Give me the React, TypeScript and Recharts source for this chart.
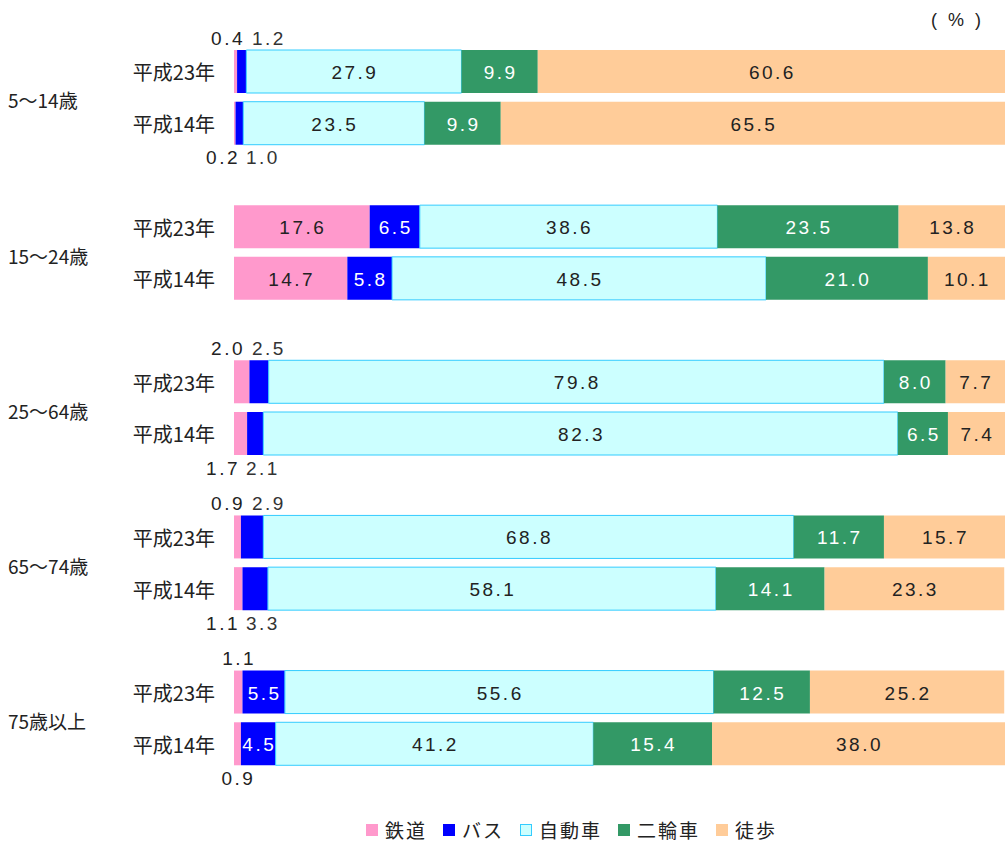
import React from 'react';
import { BarChart, Bar, XAxis, YAxis, LabelList } from 'recharts';

const groups = ['5～14歳', '15～24歳', '25～64歳', '65～74歳', '75歳以上'];
const years = ['平成23年', '平成14年'];

// one entry per bar, top to bottom (H23, H14 for each age group)
const rail = [0.4, 0.2, 17.6, 14.7, 2.0, 1.7, 0.9, 1.1, 1.1, 0.9];
const bus = [1.2, 1.0, 6.5, 5.8, 2.5, 2.1, 2.9, 3.3, 5.5, 4.5];
const car = [27.9, 23.5, 38.6, 48.5, 79.8, 82.3, 68.8, 58.1, 55.6, 41.2];
const bike = [9.9, 9.9, 23.5, 21.0, 8.0, 6.5, 11.7, 14.1, 12.5, 15.4];
const walk = [60.6, 65.5, 13.8, 10.1, 7.7, 7.4, 15.7, 23.3, 25.2, 38.0];

const seriesNames = ['鉄道', 'バス', '自動車', '二輪車', '徒歩'];

const COLORS = {
  rail: '#FF99CC',
  bus: '#0000FF',
  car: '#CCFFFF',
  bike: '#339966',
  walk: '#FFCC99',
};

type Row = {
  key: string;
  year?: string;
  group?: string;
  first?: boolean;
  top?: boolean;
  rail?: number;
  bus?: number;
  car?: number;
  bike?: number;
  walk?: number;
};

const rows: Row[] = [];
groups.forEach((g, gi) => {
  years.forEach((yr, yi) => {
    const i = gi * 2 + yi;
    rows.push({
      key: `r${i}`,
      year: yr,
      group: g,
      first: yi === 0,
      top: yi === 0,
      rail: rail[i],
      bus: bus[i],
      car: car[i],
      bike: bike[i],
      walk: walk[i],
    });
  });
  if (gi < groups.length - 1) rows.push({ key: `gap${gi}` });
});
const rowByKey: Record<string, Row> = {};
rows.forEach((r) => (rowByKey[r.key] = r));

const CHART_H = 842;
const M_TOP = 46;
const M_BOTTOM = 72;
const slotH = (CHART_H - M_TOP - M_BOTTOM) / rows.length;

const numFont = {
  fontFamily: '"Liberation Sans", Arial, sans-serif',
  fontSize: 19,
  letterSpacing: 2.5,
};

const box = (p: any) => {
  const vb = p.viewBox ?? p;
  return { x: Number(vb.x), y: Number(vb.y), w: Number(vb.width), h: Number(vb.height) };
};

// find the row a label belongs to from its vertical position
const rowAt = (y: number, h: number) => rows[Math.floor((y + h / 2 - M_TOP) / slotH)];

const makeLabel = (key: keyof typeof COLORS, color: string) => (p: any) => {
  const { x, y, w, h } = box(p);
  const row = rowAt(y, h);
  if (!row || row[key] == null) return null;
  const v = row[key] as number;
  if (key === 'rail' && v < 3) {
    const busOutside = (row.bus ?? 0) < 4;
    let tx = x + w / 2 + 1;
    let anchor: 'end' | 'middle' = 'middle';
    if (busOutside) {
      tx = x + (row.top ? 11 : 6);
      anchor = 'end';
    }
    const ty = row.top ? y - 12 : y + h + 13;
    return (
      <text x={tx} y={ty} textAnchor={anchor} dominantBaseline="central" fill="#222" style={numFont}>
        {v.toFixed(1)}
      </text>
    );
  }
  if (key === 'bus' && v < 4) {
    const scale = w / v;
    const start = x - (row.rail ?? 0) * scale;
    const tx = start + (row.top ? 18 : 12);
    const ty = row.top ? y - 12 : y + h + 13;
    return (
      <text x={tx} y={ty} textAnchor="start" dominantBaseline="central" fill="#333" style={numFont}>
        {v.toFixed(1)}
      </text>
    );
  }
  return (
    <text
      x={x + w / 2 + 1}
      y={y + h / 2 + 1}
      textAnchor="middle"
      dominantBaseline="central"
      fill={color}
      style={numFont}
    >
      {v.toFixed(1)}
    </text>
  );
};

const YTick = (props: any) => {
  const { y, payload } = props;
  const row = rowByKey[payload.value];
  if (!row || !row.year) return null;
  const cjk = { fontFamily: '"Noto Sans CJK JP", sans-serif', fontSize: 20, fill: '#222' };
  return (
    <g>
      <text x={215} y={y} textAnchor="end" dominantBaseline="central" style={cjk}>
        {row.year}
      </text>
      {row.first && (
        <text x={8} y={y + 28} textAnchor="start" dominantBaseline="central" style={{ ...cjk, fontSize: 19 }}>
          {row.group}
        </text>
      )}
    </g>
  );
};

const legendColors = [COLORS.rail, COLORS.bus, COLORS.car, COLORS.bike, COLORS.walk];

const App: React.FC = () => {
  return (
    <div style={{ position: 'absolute', left: 0, top: 0, width: 1005, height: CHART_H, background: '#fff' }}>
      <BarChart
        width={1005}
        height={CHART_H}
        data={rows}
        layout="vertical"
        margin={{ top: M_TOP, right: 0, left: 0, bottom: M_BOTTOM }}
        barSize={43}
      >
        <XAxis type="number" domain={[0, 100]} allowDataOverflow hide />
        <YAxis
          type="category"
          dataKey="key"
          width={234}
          axisLine={false}
          tickLine={false}
          tick={<YTick />}
          interval={0}
        />
        <Bar dataKey="rail" stackId="a" fill={COLORS.rail} isAnimationActive={false}>
          <LabelList dataKey="rail" content={makeLabel('rail', '#222')} />
        </Bar>
        <Bar dataKey="bus" stackId="a" fill={COLORS.bus} isAnimationActive={false}>
          <LabelList dataKey="bus" content={makeLabel('bus', '#fff')} />
        </Bar>
        <Bar dataKey="car" stackId="a" fill={COLORS.car} stroke="#33CCFF" strokeWidth={1} isAnimationActive={false}>
          <LabelList dataKey="car" content={makeLabel('car', '#222')} />
        </Bar>
        <Bar dataKey="bike" stackId="a" fill={COLORS.bike} isAnimationActive={false}>
          <LabelList dataKey="bike" content={makeLabel('bike', '#fff')} />
        </Bar>
        <Bar dataKey="walk" stackId="a" fill={COLORS.walk} isAnimationActive={false}>
          <LabelList dataKey="walk" content={makeLabel('walk', '#222')} />
        </Bar>
      </BarChart>
      <div
        style={{
          position: 'absolute',
          left: 931,
          top: 10,
          fontFamily: '"Liberation Sans", Arial, sans-serif',
          fontSize: 18,
          letterSpacing: 3,
          color: '#222',
        }}
      >
        ( % )
      </div>
      <div
        style={{
          position: 'absolute',
          left: 366,
          top: 816,
          display: 'flex',
          alignItems: 'center',
          fontFamily: '"Noto Sans CJK JP", sans-serif',
          fontSize: 19,
          letterSpacing: 2,
          color: '#222',
        }}
      >
        {seriesNames.map((n, i) => (
          <div key={n} style={{ display: 'flex', alignItems: 'center', marginRight: 16 }}>
            <span
              style={{
                display: 'inline-block',
                width: i === 2 ? 10 : 12,
                height: i === 2 ? 10 : 12,
                background: legendColors[i],
                border: i === 2 ? '1px solid #33CCFF' : 'none',
                marginRight: 7,
              }}
            />
            <span>{n}</span>
          </div>
        ))}
      </div>
    </div>
  );
};

export default App;
